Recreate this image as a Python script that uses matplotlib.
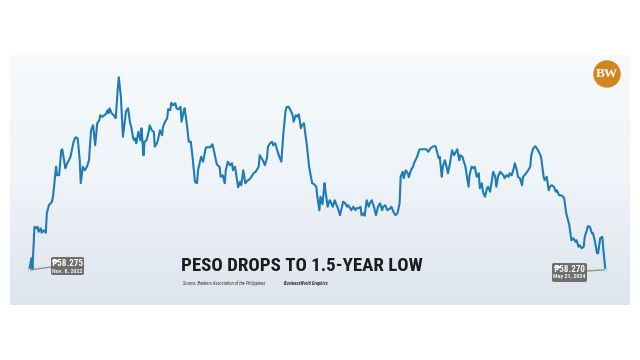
import numpy as np
import pandas as pd
import matplotlib
matplotlib.use("Agg")
import matplotlib.pyplot as plt
from matplotlib import font_manager
from matplotlib.colors import LinearSegmentedColormap
from matplotlib.patches import FancyBboxPatch, Circle

# BAP closing rate, pesos per US dollar, Nov. 8, 2022 to May 21, 2024
start = pd.Timestamp("2022-11-08")
days = [0, 2, 3, 5, 7, 8, 9, 11, 12, 14,
        16, 17, 19, 22, 23, 26, 27, 29, 31, 32,
        35, 36, 40, 43, 45, 47, 49, 50, 52, 54,
        56, 58, 60, 62, 64, 66, 68, 69, 71, 73,
        75, 76, 77, 78, 80, 82, 84, 86, 87, 89,
        91, 94, 96, 98, 99, 101, 102, 103, 104, 106,
        108, 109, 111, 112, 114, 116, 117, 119, 121, 122,
        124, 125, 127, 129, 130, 132, 134, 135, 137, 138,
        140, 142, 143, 145, 147, 148, 150, 151, 153, 155,
        157, 159, 161, 163, 164, 167, 169, 171, 172, 176,
        178, 180, 182, 183, 185, 186, 188, 190, 191, 193,
        195, 197, 198, 200, 202, 203, 205, 206, 208, 210,
        211, 215, 218, 220, 223, 224, 227, 229, 231, 232,
        234, 236, 237, 239, 241, 243, 245, 247, 249, 250,
        252, 254, 256, 257, 259, 261, 262, 264, 265, 267,
        270, 272, 275, 277, 279, 280, 282, 283, 285, 287,
        288, 290, 292, 293, 295, 297, 298, 300, 302, 304,
        305, 307, 309, 310, 312, 313, 315, 317, 318, 320,
        322, 323, 325, 326, 328, 330, 331, 333, 335, 337,
        339, 341, 343, 344, 346, 348, 351, 352, 354, 356,
        358, 360, 361, 363, 364, 366, 368, 369, 371, 373,
        374, 377, 379, 380, 383, 386, 388, 390, 393, 395,
        398, 399, 401, 402, 404, 406, 407, 409, 411, 413,
        416, 418, 419, 421, 424, 425, 427, 428, 430, 432,
        433, 435, 437, 438, 440, 441, 443, 445, 446, 448,
        450, 451, 453, 454, 456, 458, 459, 461, 462, 464,
        466, 467, 469, 471, 472, 474, 475, 477, 479, 480,
        483, 485, 487, 488, 490, 492, 494, 497, 498, 500,
        501, 503, 505, 506, 508, 510, 512, 513, 515, 517,
        519, 520, 522, 525, 527, 529, 531, 532, 534, 535,
        537, 539, 540, 542, 543, 545, 547, 548, 550, 552,
        553, 555, 557, 558, 560]
rates = [58.275, 58.04, 58.26, 57.41, 57.44, 57.41, 57.51, 57.44, 57.53, 57.48,
         57.53, 57.14, 56.98, 56.91, 56.81, 56.21, 56.38, 56.38, 55.88, 55.86,
         56.24, 56.18, 56.01, 55.71, 55.62, 55.64, 56.08, 56.54, 56.21, 56.28,
         56.21, 56.08, 55.48, 55.38, 55.78, 55.34, 55.28, 55.18, 55.21, 55.18,
         55.14, 55.08, 55.14, 55.04, 55.14, 55.18, 55.24, 54.64, 54.42, 54.81,
         55.61, 55.10, 55.04, 55.34, 55.41, 55.64, 55.68, 55.64, 55.74, 55.51,
         55.68, 55.44, 55.98, 55.71, 55.68, 55.51, 55.38, 55.48, 55.51, 55.81,
         55.74, 55.68, 55.48, 55.58, 55.41, 55.31, 55.24, 55.06, 55.08, 54.93,
         54.98, 54.94, 55.04, 55.06, 55.01, 55.31, 55.11, 55.04, 55.34, 55.71,
         55.71, 56.08, 56.51, 56.54, 56.28, 56.01, 56.11, 55.88, 55.82, 55.82,
         55.76, 55.94, 56.14, 56.18, 56.21, 56.41, 56.38, 56.54, 56.28, 56.11,
         56.18, 56.14, 56.28, 56.21, 56.48, 56.62, 56.51, 56.58, 56.28, 56.54,
         56.51, 56.44, 56.34, 56.31, 56.21, 55.98, 56.08, 56.18, 56.04, 55.81,
         55.74, 55.71, 55.78, 55.74, 55.88, 56.01, 56.11, 55.54, 55.11, 55.02,
         55.01, 55.08, 55.18, 55.31, 55.18, 55.21, 55.16, 55.44, 55.38, 55.34,
         55.81, 56.21, 56.54, 56.56, 56.61, 56.81, 57.08, 56.81, 56.96, 56.54,
         56.71, 57.01, 56.88, 56.91, 57.01, 56.88, 56.94, 57.04, 57.18, 57.01,
         56.91, 56.94, 57.01, 56.98, 57.04, 57.08, 57.01, 57.08, 57.04, 57.04,
         57.01, 57.18, 57.14, 57.19, 56.88, 57.01, 56.94, 56.88, 57.01, 57.18,
         57.01, 56.94, 57.08, 57.01, 56.98, 57.08, 57.04, 57.01, 57.11, 57.18,
         57.14, 56.94, 56.41, 56.31, 56.44, 56.28, 56.34, 56.42, 56.28, 56.21,
         56.14, 56.01, 55.88, 55.86, 55.86, 55.86, 55.91, 55.84, 55.80, 55.80,
         56.04, 56.01, 56.41, 56.21, 56.08, 56.24, 56.34, 56.14, 55.88, 55.98,
         55.86, 56.08, 55.98, 56.01, 56.21, 56.34, 56.61, 56.38, 56.21, 56.24,
         56.21, 56.41, 56.34, 56.64, 56.54, 56.71, 56.81, 56.64, 56.61, 56.71,
         56.44, 56.31, 56.41, 56.61, 56.38, 56.31, 56.34, 56.38, 56.44, 56.38,
         56.41, 56.34, 56.38, 56.24, 56.14, 56.28, 56.41, 56.44, 56.58, 56.41,
         56.34, 56.28, 56.21, 55.98, 55.84, 55.80, 55.86, 55.98, 56.08, 56.41,
         56.48, 56.41, 56.68, 56.61, 56.58, 56.61, 56.71, 56.68, 56.78, 56.78,
         56.81, 56.84, 57.14, 57.38, 57.68, 57.64, 57.71, 57.68, 57.81, 57.78,
         57.84, 57.81, 57.61, 57.48, 57.40, 57.41, 57.54, 57.54, 57.71, 57.94,
         57.94, 57.64, 57.61, 57.84, 58.27]

start_label = ["\u20b158.275", "Nov. 8, 2022"]
end_label = ["\u20b158.270", "May 21, 2024"]
title = "PESO DROPS TO 1.5-YEAR LOW"
source = "Source: Bankers Association of the Philippines"
credit = "BusinessWorld Graphics"

dates = start + pd.to_timedelta(days, unit="D")

# look for a narrow face; fall back to plain DejaVu at a smaller size
installed = {(f.name, f.stretch) for f in font_manager.fontManager.ttflist}
narrow = None
for name in ["Liberation Sans Narrow", "Roboto Condensed", "Open Sans Condensed",
             "Noto Sans Condensed", "DejaVu Sans Condensed"]:
    if any(n == name for n, s in installed):
        narrow = dict(family=[name, "DejaVu Sans"])
        break
if narrow is None:
    cond = [n for n, s in installed if s in ("condensed", "semi-condensed", 300, 400)
            and n in ("DejaVu Sans", "Noto Sans", "Open Sans", "Roboto")]
    if cond:
        narrow = dict(family=[cond[0], "DejaVu Sans"], fontstretch="condensed")
squeeze = 1.0 if narrow else 0.82
if narrow is None:
    narrow = dict(family=["DejaVu Sans"])

fig = plt.figure(figsize=(6.4, 3.6), dpi=100)
fig.patch.set_facecolor("white")

def fx(px):
    return px / 640

def fy(py):
    return 1 - py / 360

# gradient panel
panel = [fx(10), fy(305), 620 / 640, 250 / 360]
bg = fig.add_axes(panel)
grad = LinearSegmentedColormap.from_list("panel", ["#f6fafc", "#eef4f8", "#dde4ec"])
bg.imshow(np.linspace(0, 1, 256).reshape(-1, 1), aspect="auto", cmap=grad,
          extent=[0, 1, 0, 1], origin="upper")
bg.axis("off")

ax = fig.add_axes(panel)
ax.patch.set_alpha(0)
ax.axis("off")
ax.plot(dates, rates, color="#1f7bb6", lw=1.5, solid_joinstyle="round")
ax.plot([dates[0], dates[-1]], [rates[0], rates[-1]], "o", ms=2.2,
        mfc="#d9f2e6", mec="#9fd3c0", mew=0.4)
ax.set_xlim(start - pd.Timedelta(days=18.8), start + pd.Timedelta(days=584))
ax.set_ylim(58.975, 53.975)

# value callouts
def callout(x0, y0, w, h, lines, point, anchor):
    box = FancyBboxPatch((fx(x0), fy(y0 + h)), w / 640, h / 360,
                         boxstyle="round,pad=0,rounding_size=0.004",
                         transform=fig.transFigure, fc="#6e6e6e", ec="none")
    fig.add_artist(box)
    ax.annotate("", xy=point, xycoords="data", xytext=anchor,
                textcoords="figure fraction",
                arrowprops=dict(arrowstyle="-", color="#8c8c8c", lw=0.9,
                                shrinkA=0, shrinkB=1))
    cx = fx(x0 + w / 2)
    fig.text(cx, fy(y0 + 6), lines[0], color="white", fontsize=6.6 * squeeze,
             fontweight="bold", ha="center", va="center", **narrow)
    fig.text(cx, fy(y0 + 13.5), lines[1], color="#f0f0f0", fontsize=4.3 * squeeze,
             fontweight="bold", ha="center", va="center", **narrow)

callout(51, 257, 33, 18, start_label, (dates[0], rates[0]), (fx(51), fy(267)))
callout(552, 263, 35, 19, end_label, (dates[-1], rates[-1]), (fx(587), fy(271)))

# title and source
fig.text(fx(301.5), fy(266), title, fontsize=13.6 * squeeze, fontweight="bold",
         color="#1c1c1c", ha="center", va="center", **narrow)
fig.text(fx(183), fy(283.5), source, fontsize=3.3 * squeeze, color="#333333",
         ha="left", va="center", style="italic", **narrow)
fig.text(fx(284), fy(283.5), credit, fontsize=3.3 * squeeze, color="#333333",
         ha="left", va="center", style="italic", fontweight="bold", **narrow)

# BW logo
logo = fig.add_axes([fx(593), fy(88), 28 / 640, 28 / 360])
logo.set_xlim(0, 1)
logo.set_ylim(0, 1)
logo.set_aspect("equal")
logo.axis("off")
logo.add_patch(Circle((0.5, 0.5), 0.49, fc="#d4861e", ec="none"))
logo.text(0.5, 0.5, "BW", color="white", fontsize=9.5, fontweight="bold",
          ha="center", va="center", family=["Liberation Serif", "DejaVu Serif"])

fig.savefig("out.png", dpi=100)
